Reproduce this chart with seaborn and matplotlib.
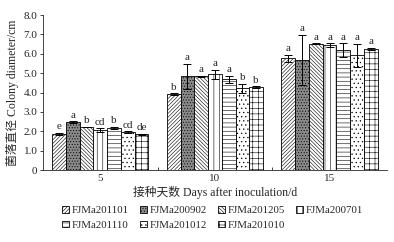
import numpy as np
import pandas as pd
import seaborn as sns
import matplotlib.pyplot as plt
from matplotlib.patches import Patch

days = ['5', '10', '15']
strains = ['FJMa201101', 'FJMa200902', 'FJMa201205', 'FJMa200701',
           'FJMa201110', 'FJMa201012', 'FJMa201010']

# mean colony diameter (cm), one list per strain: day 5, 10, 15
means = {
    'FJMa201101': [1.85, 3.92, 5.76],
    'FJMa200902': [2.47, 4.83, 5.67],
    'FJMa201205': [2.22, 4.83, 6.52],
    'FJMa200701': [2.05, 4.93, 6.43],
    'FJMa201110': [2.17, 4.69, 6.19],
    'FJMa201012': [1.94, 4.21, 5.91],
    'FJMa201010': [1.84, 4.28, 6.25],
}
errs = {
    'FJMa201101': [0.06, 0.03, 0.19],
    'FJMa200902': [0.04, 0.65, 1.30],
    'FJMa201205': [0.02, 0.02, 0.03],
    'FJMa200701': [0.10, 0.23, 0.10],
    'FJMa201110': [0.05, 0.18, 0.36],
    'FJMa201012': [0.05, 0.25, 0.60],
    'FJMa201010': [0.03, 0.04, 0.05],
}
letters = {
    'FJMa201101': ['e', 'b', 'a'],
    'FJMa200902': ['a', 'a', 'a'],
    'FJMa201205': ['b', 'a', 'a'],
    'FJMa200701': ['cd', 'a', 'a'],
    'FJMa201110': ['b', 'a', 'a'],
    'FJMa201012': ['cd', 'b', 'a'],
    'FJMa201010': ['de', 'b', 'a'],
}

hatches = ['/////////', '......', '\\\\\\\\\\\\\\\\\\', '|||', '----', '....', '+++']
fills = ['white', '#8a8a8a', 'white', 'white', 'white', 'white', 'white']

rows = []
for s in strains:
    for i, d in enumerate(days):
        rows.append({'day': d, 'strain': s, 'diam': means[s][i]})
df = pd.DataFrame(rows)

sns.set_style('ticks')
plt.rcParams['font.family'] = ['Liberation Serif', 'Noto Sans CJK SC']
plt.rcParams['hatch.linewidth'] = 0.4
plt.rcParams['hatch.color'] = '#333333'

fig, ax = plt.subplots(figsize=(3.94, 2.42), dpi=100)
fig.subplots_adjust(left=0.109, right=0.982, top=0.938, bottom=0.2975)

sns.barplot(data=df, x='day', y='diam', hue='strain', hue_order=strains,
            order=days, errorbar=None, width=0.84, legend=False, ax=ax,
            edgecolor='black', linewidth=0.6)

handles = []
for k, (cont, s) in enumerate(zip(ax.containers, strains)):
    for j, bar in enumerate(cont.patches):
        bar.set_facecolor(fills[k])
        bar.set_hatch(hatches[k])
        bar.set_edgecolor('black')
        x = bar.get_x() + bar.get_width() / 2
        h = bar.get_height()
        e = errs[s][j]
        ax.errorbar(x, h, yerr=e, color='black', capsize=3, elinewidth=0.7,
                    capthick=0.7, fmt='none')
        ax.text(x, h + e + 0.08, letters[s][j], ha='center', va='bottom',
                fontsize=8)
    handles.append(Patch(facecolor=fills[k], hatch=hatches[k],
                         edgecolor='black', linewidth=0.6))

ax.set_ylim(0, 8)
ax.set_xlim(-0.5, 2.5)
ax.set_yticks(np.arange(0, 9, 1))
ax.set_yticklabels(['0'] + ['%.1f' % v for v in range(1, 9)])
ax.set_xticks([0.5, 1.5], minor=True)
ax.tick_params(axis='x', which='major', length=0, labelsize=8, pad=3)
ax.tick_params(axis='x', which='minor', direction='in', length=2, width=0.6)
ax.tick_params(axis='y', length=2, width=0.6, labelsize=8, pad=2)
for sp in ['top', 'right']:
    ax.spines[sp].set_visible(False)
for sp in ['left', 'bottom']:
    ax.spines[sp].set_linewidth(0.6)

ax.set_xlabel('接种天数 Days after inoculation/d', fontsize=8.5, labelpad=2)
ax.set_ylabel('菌落直径 Colony diameter/cm', fontsize=8.5, labelpad=3)

order = [0, 4, 1, 5, 2, 6, 3]
fig.legend([handles[i] for i in order], [strains[i] for i in order],
           ncol=4, loc='lower center', bbox_to_anchor=(0.54, 0.01),
           frameon=False, fontsize=7.8, handlelength=0.6, handleheight=0.6,
           handletextpad=0.3, columnspacing=1.0, labelspacing=0.5)

fig.savefig('out.png', dpi=100)
